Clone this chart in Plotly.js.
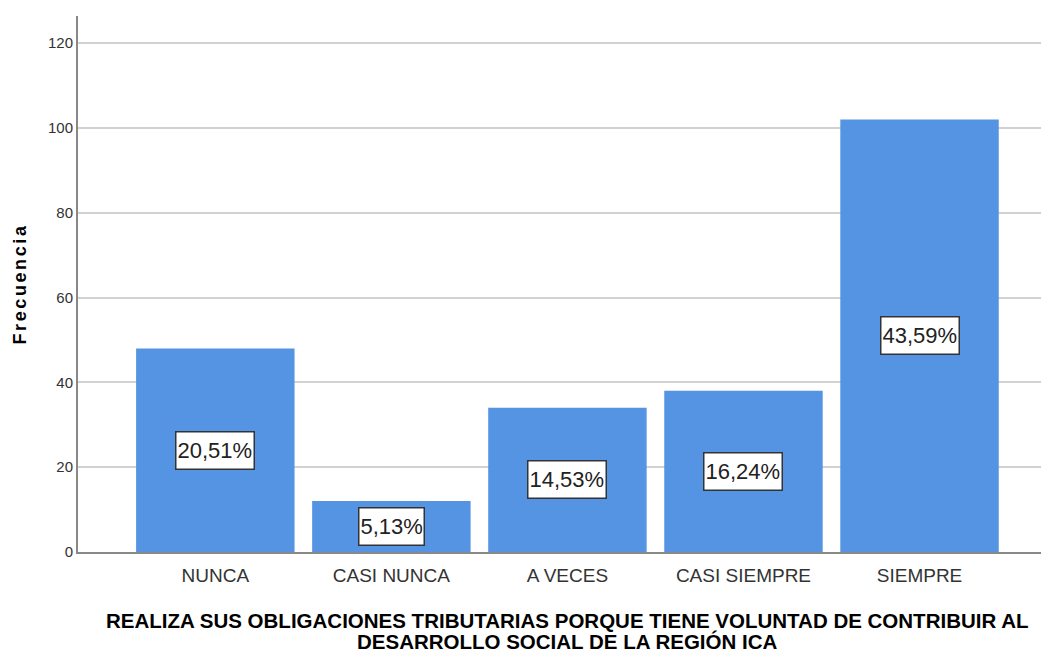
<!DOCTYPE html>
<html>
<head>
<meta charset="utf-8">
<script src="https://cdn.plot.ly/plotly-3.0.1.min.js"></script>
<style>
html,body{margin:0;padding:0;background:#fff;}
#chart{width:1041px;height:656px;}
.g-ytitle text{letter-spacing:2.6px;}
</style>
</head>
<body>
<div id="chart"></div>
<script>
const categories = ["NUNCA", "CASI NUNCA", "A VECES", "CASI SIEMPRE", "SIEMPRE"];
const counts = [48, 12, 34, 38, 102];
const percentLabels = ["20,51%", "5,13%", "14,53%", "16,24%", "43,59%"];
const yTicks = [0, 20, 40, 60, 80, 100, 120];
const xTitleLines = [
  "REALIZA SUS OBLIGACIONES TRIBUTARIAS PORQUE TIENE VOLUNTAD DE CONTRIBUIR AL",
  "DESARROLLO SOCIAL DE LA REGIÓN ICA"
];

const font = "'Liberation Sans Narrow', 'Arial Narrow', 'Liberation Sans', Arial, sans-serif";

const trace = {
  type: "bar",
  x: categories,
  y: counts,
  marker: {color: "rgb(85,148,227)", line: {width: 0}},
  hoverinfo: "skip"
};

const annotations = categories.map((c, i) => ({
  x: c, y: counts[i] / 2, xref: "x", yref: "y",
  text: percentLabels[i], showarrow: false,
  font: {family: font, size: 22, color: "#222"},
  height: 34,
  bgcolor: "#ffffff", bordercolor: "#333", borderwidth: 1.5, borderpad: 1
}));

const titleY = [-0.1287, -0.1679];
xTitleLines.forEach((t, i) => {
  annotations.push({
    xref: "paper", yref: "paper", x: 0.5078, y: titleY[i],
    xanchor: "center", yanchor: "middle",
    text: "<b>" + t + "</b>", showarrow: false,
    font: {family: font, size: 20.5, color: "#000"}
  });
});

const layout = {
  width: 1041, height: 656,
  margin: {l: 78, r: 0, t: 16, b: 104},
  paper_bgcolor: "#fff", plot_bgcolor: "#fff",
  bargap: 0.1,
  showlegend: false,
  xaxis: {
    type: "category",
    range: [-0.78, 4.69],
    showgrid: false,
    showline: true, linecolor: "#888", linewidth: 2,
    ticks: "", ticklen: 0,
    ticklabelstandoff: 5,
    tickfont: {family: font, size: 19, color: "#333"}
  },
  yaxis: {
    range: [0, 126.4],
    tickvals: yTicks,
    ticktext: yTicks.map(String),
    showgrid: true, gridcolor: "#d2d2d2", gridwidth: 2,
    zeroline: false,
    showline: true, linecolor: "#888", linewidth: 2,
    ticks: "", ticklen: 0,
    tickfont: {family: font, size: 15, color: "#333"},
    title: {
      text: "<b>Frecuencia</b>",
      font: {family: "'Liberation Sans', Arial, sans-serif", size: 18, color: "#000"},
      standoff: 17
    }
  },
  annotations: annotations
};

Plotly.newPlot("chart", [trace], layout, {displayModeBar: false, staticPlot: true});
</script>
</body>
</html>
